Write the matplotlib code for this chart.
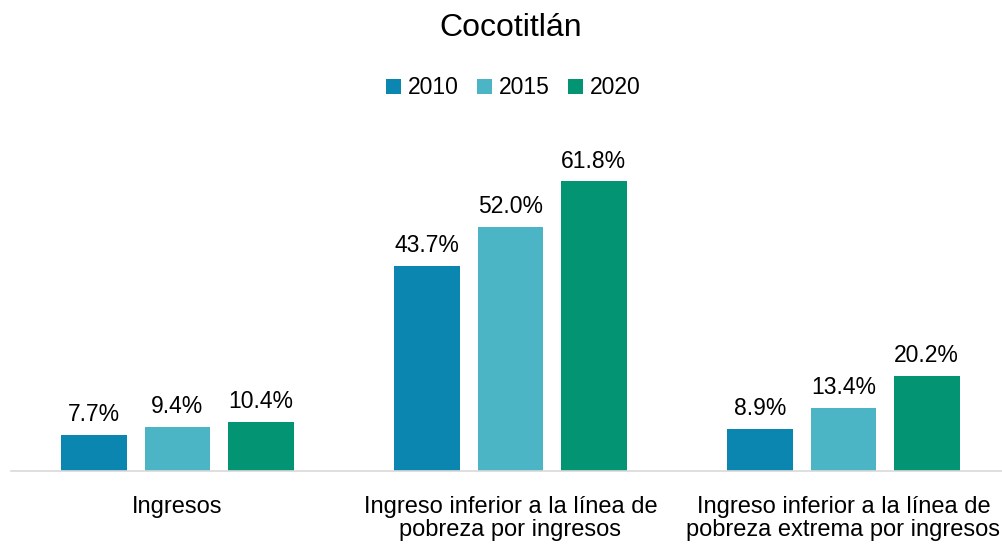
import numpy as np
import matplotlib.pyplot as plt

plt.rcParams['font.family'] = ['Liberation Sans', 'DejaVu Sans']

categorias = ["Ingresos",
              "Ingreso inferior a la línea de\npobreza por ingresos",
              "Ingreso inferior a la línea de\npobreza extrema por ingresos"]
anios = ["2010", "2015", "2020"]
v2010 = [7.7, 43.7, 8.9]
v2015 = [9.4, 52.0, 13.4]
v2020 = [10.4, 61.8, 20.2]
colores = ["#0B86B0", "#4BB5C5", "#039474"]

W, H = 1003, 546
fig = plt.figure(figsize=(W / 100, H / 100), dpi=100)
# axes in pixel coords: left 11, right 1010, baseline 471, top 143
ax = fig.add_axes([11 / W, (H - 471) / H, (1010 - 11) / W, (471 - 143) / H])

x = np.arange(len(categorias))
series = [v2010, v2015, v2020]
for i, (vals, lab, col) in enumerate(zip(series, anios, colores)):
    pos = x + (i - 1) * 0.25
    bars = ax.bar(pos, vals, width=0.198, color=col, label=lab)
    for b, v in zip(bars, vals):
        ax.text(b.get_x() + b.get_width() / 2, v + 1.9, f"{v:.1f}%",
                ha='center', va='bottom', fontsize=16.5, color='#000000')

ax.set_xlim(-0.5, 2.5)
ax.set_ylim(0, 70)
ax.set_yticks([])
ax.set_xticks(x)
ax.set_xticklabels(categorias, fontsize=17, linespacing=1.05)
ax.tick_params(axis='x', length=0, pad=18)
for s in ['top', 'right', 'left']:
    ax.spines[s].set_visible(False)
ax.spines['bottom'].set_color('#D9D9D9')
ax.spines['bottom'].set_linewidth(1.2)

fig.text(511 / W, 1 - 28 / H, "Cocotitlán", ha='center', va='center', fontsize=23)
fig.legend(loc='center', bbox_to_anchor=(513 / W, 1 - 88 / H), ncol=3, frameon=False,
           fontsize=16.5, handlelength=0.65, handleheight=0.65, handletextpad=0.3,
           columnspacing=0.8)

fig.savefig("out.png", dpi=100)
